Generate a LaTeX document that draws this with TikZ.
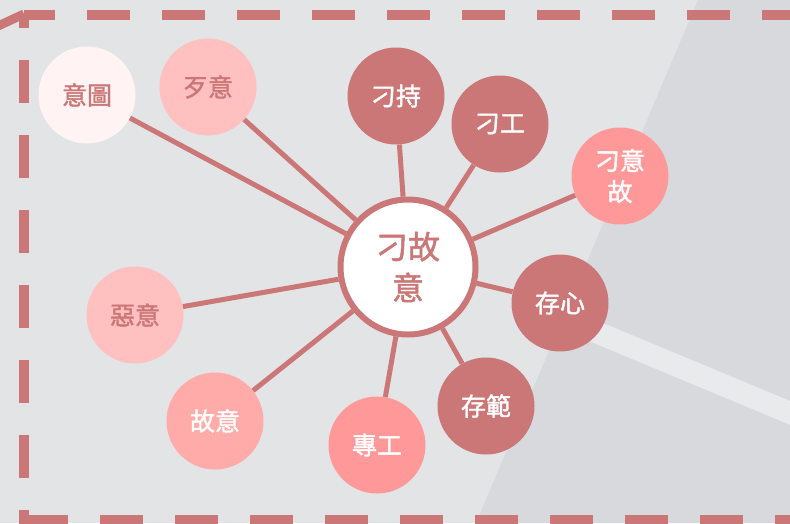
\documentclass[tikz,border=0pt]{standalone}
\usepackage{fontspec}
\newfontfamily\cjk{Noto Sans CJK TC}[FakeBold=1.6]
\definecolor{rose}{HTML}{CC7777}
\definecolor{salmon}{HTML}{FF9999}
\definecolor{salmonlt}{HTML}{FFABAA}
\definecolor{pinklt}{HTML}{FFC0BF}
\definecolor{blush}{HTML}{FFF4F3}
\definecolor{bgbase}{HTML}{E2E4E6}
\definecolor{bgdark}{HTML}{D7D9DC}
\definecolor{bgband}{HTML}{E8EAEC}
\tikzset{
  leaf/.style={circle, minimum size=97pt, inner sep=0pt, align=center,
    font=\cjk\fontsize{25}{31}\selectfont},
  darkleaf/.style={leaf, fill=rose, text=white},
  hub/.style={circle, minimum size=135pt, inner sep=0pt, align=center,
    fill=white, draw=rose, line width=6pt, text=rose,
    font=\cjk\fontsize{32}{41}\selectfont},
  edge/.style={draw=rose, line width=5pt},
  border/.style={draw=rose, line width=10pt, dash pattern=on 43pt off 32pt}
}
\begin{document}
\begin{tikzpicture}[x=1pt,y=-1pt]
\useasboundingbox (0,0) rectangle (790,523);
% background
\fill[bgbase] (0,0) rectangle (790,523);
\fill[bgdark] (698,0) -- (790,0) -- (790,523) -- (476,523) -- cycle;
\draw[bgband, line width=22pt] (560,317) -- (800,417);
% dashed frame
\draw[border, dash phase=11.7pt] (24,15) -- (800,15);
\draw[border, dash phase=30pt] (24,15) -- (24,525);
\draw[border, dash phase=74pt] (24,520) -- (800,520);
\draw[border, dash phase=37pt] (795,15) -- (795,525);
\draw[rose, line width=9pt] (-2,26) -- (24,14);
% nodes
\node[hub] (c) at (408,267) {刁故\\意};
\node[leaf, fill=blush, text=rose] (yitu) at (87,95) {意圖};
\node[leaf, fill=pinklt, text=rose] (daiyi) at (208,87) {歹意};
\node[darkleaf] (diaochi) at (396,96) {刁持};
\node[darkleaf] (diaogong) at (500,124) {刁工};
\node[leaf, fill=salmon, text=white] (diaoyigu) at (620,176) {刁意\\故};
\node[darkleaf] (cunxin) at (560,303) {存心};
\node[darkleaf] (cunfan) at (486,406) {存範};
\node[leaf, fill=salmon, text=white] (zhuangong) at (377,445) {專工};
\node[leaf, fill=salmonlt, text=white] (guyi) at (215,421) {故意};
\node[leaf, fill=pinklt, text=rose] (eyi) at (135,315) {惡意};
% connectors
\foreach \n in {yitu,daiyi,diaochi,diaogong,diaoyigu,cunxin,cunfan,zhuangong,guyi,eyi}
  \draw[edge] (c) -- (\n);
\end{tikzpicture}
\end{document}
